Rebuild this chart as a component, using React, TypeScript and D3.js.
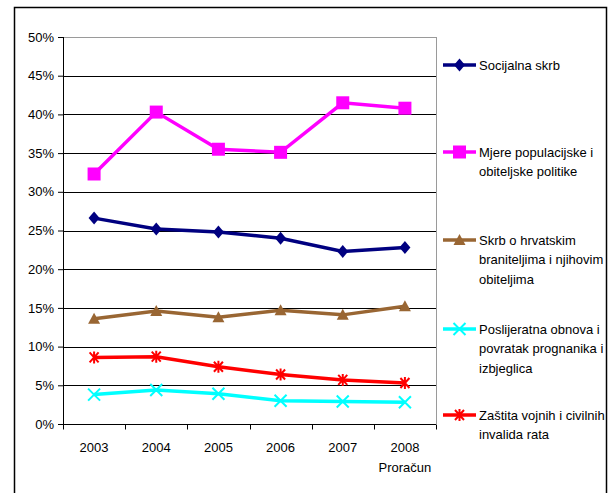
import * as d3 from 'd3';
import React, { useEffect, useRef } from 'react';

const years = ['2003', '2004', '2005', '2006', '2007', '2008'];
const yearSub = ['', '', '', '', '', 'Proračun'];
const yTicks = [0, 5, 10, 15, 20, 25, 30, 35, 40, 45, 50];

const socijalna = [26.6, 25.2, 24.8, 24.0, 22.3, 22.8];
const mjere = [32.3, 40.3, 35.5, 35.1, 41.5, 40.8];
const branitelji = [13.6, 14.6, 13.8, 14.7, 14.1, 15.2];
const poslijeratna = [3.8, 4.4, 3.9, 3.0, 2.9, 2.8];
const zastita = [8.6, 8.7, 7.4, 6.4, 5.7, 5.3];

const seriesNames = [
    ['Socijalna skrb'],
    ['Mjere populacijske i', 'obiteljske politike'],
    ['Skrb o hrvatskim', 'braniteljima i njihovim', 'obiteljima'],
    ['Poslijeratna obnova i', 'povratak prognanika i', 'izbjeglica'],
    ['Zaštita vojnih i civilnih', 'invalida rata'],
];

const series = [
    { lines: seriesNames[0], values: socijalna, color: '#000080', marker: 'diamond' },
    { lines: seriesNames[1], values: mjere, color: '#FF00FF', marker: 'square' },
    { lines: seriesNames[2], values: branitelji, color: '#996633', marker: 'triangle' },
    { lines: seriesNames[3], values: poslijeratna, color: '#00FFFF', marker: 'x' },
    { lines: seriesNames[4], values: zastita, color: '#FF0000', marker: 'star' },
];

// legend line y positions (first text line)
const legendY = [65, 152, 240, 329, 415];

export default function App() {
    const ref = useRef<SVGSVGElement>(null);
    const width = 611;
    const height = 493;
    const margin = { top: 37, left: 63, right: 175, bottom: 69 };
    const innerWidth = width - margin.left - margin.right;
    const innerHeight = height - margin.top - margin.bottom;

    useEffect(() => {
        const svg = d3.select(ref.current);
        svg.selectAll('*').remove();
        const font = 'Arial, "Liberation Sans", sans-serif';
        const fs = 13;

        svg.append('rect')
            .attr('x', 14.5).attr('y', 7.5)
            .attr('width', 592).attr('height', 500)
            .attr('fill', '#fff').attr('stroke', '#000').attr('stroke-width', 1.5);

        const x = d3.scaleBand().domain(years).range([0, innerWidth]);
        const y = d3.scaleLinear().domain([0, 50]).range([innerHeight, 0]);

        const g = svg.append('g').attr('transform', `translate(${margin.left}, ${margin.top})`);

        // gridlines
        g.selectAll('.grid')
            .data(yTicks.filter((t) => t > 0))
            .join('line')
            .attr('x1', 0).attr('x2', innerWidth)
            .attr('y1', (d) => Math.round(y(d)) + 0.5).attr('y2', (d) => Math.round(y(d)) + 0.5)
            .attr('stroke', (d) => (d === 50 ? '#9a9a9a' : '#000'))
            .attr('stroke-width', 1);
        g.append('line')
            .attr('x1', innerWidth + 0.5).attr('x2', innerWidth + 0.5)
            .attr('y1', 0).attr('y2', innerHeight)
            .attr('stroke', '#9a9a9a');

        // y axis
        const yAxis = d3.axisLeft(y)
            .tickValues(yTicks)
            .tickFormat((d) => `${d}%`)
            .tickSize(5)
            .tickPadding(4);
        const ya = g.append('g').call(yAxis);
        ya.select('.domain').attr('stroke', '#000').attr('d', `M0.5,0V${innerHeight}`);
        ya.selectAll('line').attr('stroke', '#000');
        ya.selectAll('text').attr('font-family', font).attr('font-size', fs).attr('fill', '#000');

        // x axis
        const xa = g.append('g').attr('transform', `translate(0,${Math.round(innerHeight) + 0.5})`);
        xa.append('line').attr('x1', 0).attr('x2', innerWidth).attr('stroke', '#000');
        xa.selectAll('.tk')
            .data(d3.range(years.length + 1))
            .join('line')
            .attr('x1', (i) => Math.round(i * x.bandwidth()) + 0.5)
            .attr('x2', (i) => Math.round(i * x.bandwidth()) + 0.5)
            .attr('y1', 0).attr('y2', 5)
            .attr('stroke', '#000');
        xa.selectAll('.lbl')
            .data(years)
            .join('text')
            .attr('x', (d) => x(d)! + x.bandwidth() / 2)
            .attr('y', 27)
            .attr('text-anchor', 'middle')
            .attr('font-family', font).attr('font-size', fs)
            .text((d) => d);
        xa.selectAll('.sub')
            .data(years)
            .join('text')
            .attr('x', (d) => x(d)! + x.bandwidth() / 2)
            .attr('y', 47)
            .attr('text-anchor', 'middle')
            .attr('font-family', font).attr('font-size', fs)
            .text((d, i) => yearSub[i]);

        const drawMarker = (sel: any, type: string, color: string) => {
            if (type === 'diamond') {
                sel.append('path').attr('d', 'M0,-6.5L5.5,0L0,6.5L-5.5,0Z').attr('fill', color);
            } else if (type === 'square') {
                sel.append('rect').attr('x', -6.5).attr('y', -6.5).attr('width', 13).attr('height', 13).attr('fill', color);
            } else if (type === 'triangle') {
                sel.append('path').attr('d', 'M0,-6L6,5L-6,5Z').attr('fill', color);
            } else if (type === 'x') {
                sel.append('path').attr('d', 'M-6,-6L6,6M-6,6L6,-6').attr('stroke', color).attr('stroke-width', 2).attr('fill', 'none');
            } else if (type === 'star') {
                sel.append('path').attr('d', 'M-4.5,-5L4.5,5M-4.5,5L4.5,-5M0,-6V6').attr('stroke', color).attr('stroke-width', 2).attr('fill', 'none');
            }
        };

        const line = d3.line<number>()
            .x((d, i) => x(years[i])! + x.bandwidth() / 2)
            .y((d) => y(d));

        series.forEach((s) => {
            g.append('path')
                .attr('d', line(s.values))
                .attr('fill', 'none')
                .attr('stroke', s.color)
                .attr('stroke-width', 3.5);
            s.values.forEach((v, i) => {
                const m = g.append('g').attr('transform', `translate(${x(years[i])! + x.bandwidth() / 2},${y(v)})`);
                drawMarker(m, s.marker, s.color);
            });
        });

        // legend
        const lg = svg.append('g');
        series.forEach((s, k) => {
            const ly = legendY[k];
            lg.append('line')
                .attr('x1', 443).attr('x2', 476)
                .attr('y1', ly).attr('y2', ly)
                .attr('stroke', s.color).attr('stroke-width', 3.5);
            const m = lg.append('g').attr('transform', `translate(459.5,${ly})`);
            drawMarker(m, s.marker, s.color);
            s.lines.forEach((t, j) => {
                lg.append('text')
                    .attr('x', 479).attr('y', ly + j * 19.5)
                    .attr('dy', '0.35em')
                    .attr('font-family', font).attr('font-size', fs)
                    .text(t);
            });
        });
    }, []);

    return (
        <svg
            ref={ref}
            width={width}
            height={height}
            style={{ position: 'absolute', left: 0, top: 0, background: '#fff' }}
        ></svg>
    );
}
